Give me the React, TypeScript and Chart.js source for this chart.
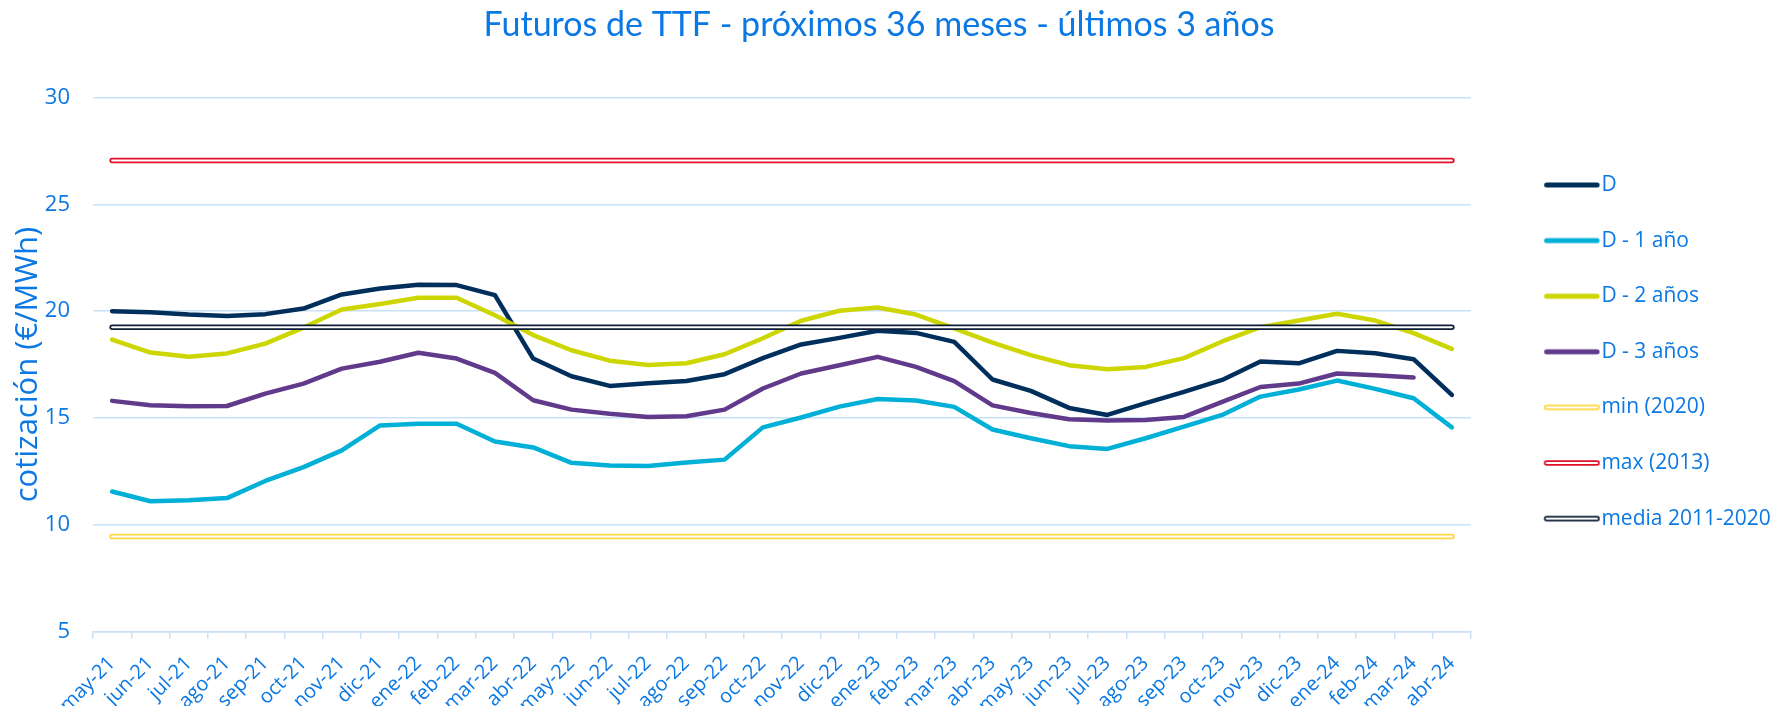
import React, { useEffect, useRef } from 'react';
import { Chart, registerables } from 'chart.js';

Chart.register(...registerables);

// ---------- data ----------
const MONTHS = [
  'may-21', 'jun-21', 'jul-21', 'ago-21', 'sep-21', 'oct-21', 'nov-21', 'dic-21',
  'ene-22', 'feb-22', 'mar-22', 'abr-22', 'may-22', 'jun-22', 'jul-22', 'ago-22',
  'sep-22', 'oct-22', 'nov-22', 'dic-22', 'ene-23', 'feb-23', 'mar-23', 'abr-23',
  'may-23', 'jun-23', 'jul-23', 'ago-23', 'sep-23', 'oct-23', 'nov-23', 'dic-23',
  'ene-24', 'feb-24', 'mar-24', 'abr-24',
];

const D = [
  20.0, 19.95, 19.84, 19.77, 19.86, 20.12, 20.78, 21.06, 21.23, 21.22, 20.75, 17.78,
  16.95, 16.5, 16.63, 16.73, 17.05, 17.8, 18.44, 18.75, 19.08, 18.98, 18.56, 16.8,
  16.27, 15.47, 15.14, 15.69, 16.22, 16.78, 17.64, 17.56, 18.14, 18.03, 17.75, 16.08,
];

const D_1 = [
  11.56, 11.1, 11.15, 11.25, 12.05, 12.7, 13.48, 14.65, 14.73, 14.73, 13.9, 13.62,
  12.9, 12.78, 12.75, 12.92, 13.05, 14.56, 15.02, 15.53, 15.89, 15.82, 15.52, 14.46,
  14.05, 13.68, 13.55, 14.05, 14.59, 15.14, 16.0, 16.33, 16.75, 16.36, 15.92, 14.56,
];

const D_2 = [
  18.67, 18.06, 17.86, 18.02, 18.48, 19.23, 20.08, 20.33, 20.63, 20.63, 19.81, 18.88,
  18.17, 17.68, 17.48, 17.56, 17.98, 18.73, 19.55, 20.02, 20.17, 19.84, 19.19, 18.53,
  17.94, 17.47, 17.28, 17.39, 17.8, 18.58, 19.25, 19.56, 19.88, 19.56, 18.97, 18.23,
];

const D_3 = [
  15.8, 15.6, 15.55, 15.56, 16.14, 16.61, 17.31, 17.63, 18.05, 17.78, 17.11, 15.83,
  15.39, 15.2, 15.05, 15.08, 15.39, 16.38, 17.08, 17.47, 17.86, 17.39, 16.72, 15.59,
  15.23, 14.94, 14.88, 14.9, 15.05, 15.75, 16.45, 16.61, 17.08, 17.0, 16.89, null,
];

const MIN_2020 = 9.45;
const MAX_2013 = 27.05;
const MEDIA_2011_2020 = 19.25;

const Y_MIN = 5;
const Y_MAX = 30;
const Y_STEP = 5;

const TITLE = 'Futuros de TTF - próximos 36 meses - últimos 3 años';
const Y_TITLE = 'cotización (€/MWh)';
const SERIES_LABELS = ['D', 'D - 1 año', 'D - 2 años', 'D - 3 años', 'min (2020)', 'max (2013)', 'media 2011-2020'];

// ---------- styles ----------
const BLUE = '#0b78e3';
const GRID = '#c8e0f8';
const C_D = '#002f5c';
const C_D1 = '#00b0d6';
const C_D2 = '#cdd600';
const C_D3 = '#613a8c';
const C_MIN = '#ffd640';
const C_MAX = '#e0102a';
const C_MEDIA = '#0e1e36';
const FONT = "'Open Sans', sans-serif";

function makeSymbol(color: string, double: boolean): HTMLCanvasElement {
  const c = document.createElement('canvas');
  c.width = 104;
  c.height = 10;
  const ctx = c.getContext('2d')!;
  ctx.lineCap = 'round';
  ctx.strokeStyle = color;
  ctx.lineWidth = double ? 5.5 : 5;
  ctx.beginPath();
  ctx.moveTo(50.4, 5);
  ctx.lineTo(100.9, 5);
  ctx.stroke();
  if (double) {
    ctx.strokeStyle = '#ffffff';
    ctx.lineWidth = 2;
    ctx.beginPath();
    ctx.moveTo(50.4, 5);
    ctx.lineTo(100.9, 5);
    ctx.stroke();
  }
  return c;
}

// shifts the centred title a little to the left, as in the reference
const titleShift = {
  id: 'titleShift',
  afterLayout(chart: any) {
    const tb = chart.titleBlock;
    if (tb) {
      tb.right -= 28;
      tb.width = tb.right - tb.left;
    }
  },
};

export default function App() {
  const ref = useRef<HTMLCanvasElement>(null);

  useEffect(() => {
    const constLine = (v: number) => MONTHS.map(() => v);
    const base = {
      pointRadius: 0,
      pointHoverRadius: 0,
      tension: 0,
      borderCapStyle: 'round' as const,
      borderJoinStyle: 'round' as const,
      fill: false,
    };
    const symbols = [
      makeSymbol(C_D, false),
      makeSymbol(C_D1, false),
      makeSymbol(C_D2, false),
      makeSymbol(C_D3, false),
      makeSymbol(C_MIN, true),
      makeSymbol(C_MAX, true),
      makeSymbol(C_MEDIA, true),
    ];

    const chart = new Chart(ref.current!, {
      type: 'line',
      plugins: [titleShift],
      data: {
        labels: MONTHS,
        datasets: [
          { ...base, label: SERIES_LABELS[0], data: D, borderColor: C_D, borderWidth: 4.5, order: 10 },
          { ...base, label: SERIES_LABELS[1], data: D_1, borderColor: C_D1, borderWidth: 4.5, order: 9 },
          { ...base, label: SERIES_LABELS[2], data: D_2, borderColor: C_D2, borderWidth: 4.5, order: 8 },
          { ...base, label: SERIES_LABELS[3], data: D_3, borderColor: C_D3, borderWidth: 4.5, order: 7 },
          { ...base, label: SERIES_LABELS[4], data: constLine(MIN_2020), borderColor: C_MIN, borderWidth: 5.5, order: 6 },
          { ...base, label: '_min_inner', data: constLine(MIN_2020), borderColor: '#ffffff', borderWidth: 2, order: 5 },
          { ...base, label: SERIES_LABELS[5], data: constLine(MAX_2013), borderColor: C_MAX, borderWidth: 5.5, order: 4 },
          { ...base, label: '_max_inner', data: constLine(MAX_2013), borderColor: '#ffffff', borderWidth: 2, order: 3 },
          { ...base, label: SERIES_LABELS[6], data: constLine(MEDIA_2011_2020), borderColor: C_MEDIA, borderWidth: 5.5, order: 2 },
          { ...base, label: '_media_inner', data: constLine(MEDIA_2011_2020), borderColor: '#ffffff', borderWidth: 2, order: 1 },
        ],
      },
      options: {
        responsive: true,
        maintainAspectRatio: false,
        animation: false,
        layout: { padding: 0 },
        plugins: {
          tooltip: { enabled: false },
          title: {
            display: true,
            text: TITLE,
            color: BLUE,
            font: { family: "Lato, 'Open Sans', sans-serif", size: 34, weight: 'normal', lineHeight: 1 },
            padding: { top: 0.5, bottom: 55 },
          },
          legend: {
            display: true,
            position: 'right',
            align: 'start',
            fullSize: false,
            maxWidth: 307,
            title: {
              display: true,
              text: ' ',
              font: { size: 10, lineHeight: 1 },
              padding: { top: 32.4, bottom: 0 },
            },
            labels: {
              usePointStyle: true,
              pointStyleWidth: 85.3,
              padding: 34.6,
              color: BLUE,
              font: { family: FONT, size: 21 },
              generateLabels: () =>
                SERIES_LABELS.map((text, i) => ({
                  text,
                  pointStyle: symbols[i],
                  fillStyle: 'rgba(0,0,0,0)',
                  strokeStyle: 'rgba(0,0,0,0)',
                  lineWidth: 0,
                  hidden: false,
                  fontColor: BLUE,
                  datasetIndex: i < 4 ? i : 4 + (i - 4) * 2,
                })),
            },
          },
        },
        scales: {
          x: {
            offset: true,
            afterFit: (scale: any) => {
              scale.height = 82.4;
            },
            grid: {
              display: true,
              drawOnChartArea: false,
              drawTicks: true,
              tickLength: 7,
              color: GRID,
              lineWidth: 1.5,
              offset: true,
            },
            border: { display: true, color: GRID, width: 1.5 },
            ticks: {
              autoSkip: false,
              minRotation: 45,
              maxRotation: 45,
              padding: 13,
              color: BLUE,
              font: { family: FONT, size: 20 },
            },
          },
          y: {
            min: Y_MIN,
            max: Y_MAX,
            afterFit: (scale: any) => {
              scale.width = 85;
            },
            grid: { color: GRID, lineWidth: 1.5, drawTicks: false },
            border: { display: false },
            ticks: {
              stepSize: Y_STEP,
              padding: 23,
              color: BLUE,
              font: { family: FONT, size: 22 },
            },
            title: {
              display: true,
              text: Y_TITLE,
              color: BLUE,
              font: { family: FONT, size: 31, lineHeight: 1.1 },
              padding: { top: 3, bottom: 0 },
            },
          },
        },
      },
    });
    return () => chart.destroy();
  }, []);

  return (
    <div style={{ width: 1770, height: 706, marginBottom: -8, position: 'relative' }}>
      <canvas ref={ref} />
    </div>
  );
}
